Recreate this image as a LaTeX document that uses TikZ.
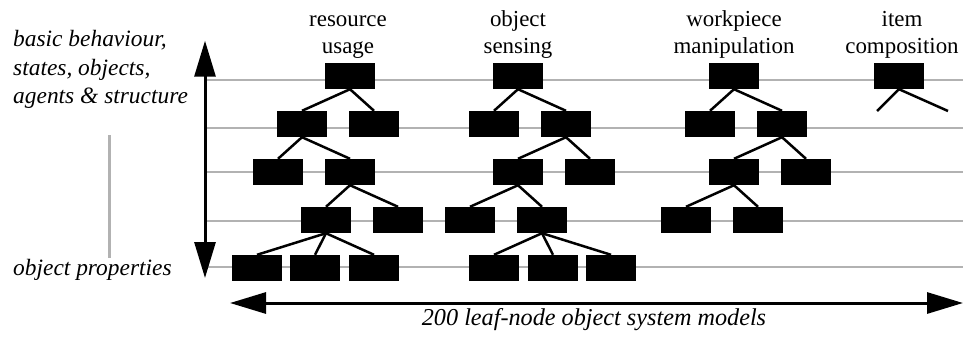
\documentclass[tikz,border=0pt]{standalone}
\usepackage{fontspec}
\setmainfont{Liberation Serif}
\usetikzlibrary{arrows.meta}
\begin{document}
\begin{tikzpicture}[x=1bp,y=-1bp,
  blk/.style={fill=black,draw=none,minimum width=50bp,minimum height=26bp,inner sep=0pt},
  conn/.style={line width=2.5bp,black},
  level/.style={line width=2.2bp,black!30},
  bigarrow/.style={line width=3bp,{Triangle[length=36bp,width=21bp]}-{Triangle[length=36bp,width=21bp]}},
  head/.style={font=\fontsize{23}{27}\selectfont,align=center,anchor=base,inner sep=0pt},
  side/.style={font=\fontsize{23.5}{28}\selectfont\itshape,align=left,anchor=base west,inner sep=0pt}]
\useasboundingbox (0,0) rectangle (963,342);
% level lines
\foreach \yy in {80,128,172,221,267} \draw[level] (207,\yy) -- (963,\yy);
% gray vertical bar
\draw[line width=3bp,black!30] (109,135) -- (109,258);
% vertical arrow
\coordinate (vt) at (205,40.7);
\coordinate (vb) at (205,278);
\draw[bigarrow] (vt) -- (vb);
% horizontal arrow
\coordinate (hl) at (230,303);
\coordinate (hr) at (963,303);
\draw[bigarrow] (hl) -- (hr);
% labels
\node[side] (lab1) at (13,46.5) {basic behaviour,};
\node[side] (lab2) at (13,75) {states, objects,};
\node[side] (lab3) at (13,103) {agents \& structure};
\node[side] (lab4) at (13,275) {object properties};
\node[font=\fontsize{24.3}{28}\selectfont\itshape,anchor=base,inner sep=0pt] (bot) at (594,325) {200 leaf-node object system models};
\node[head] (h1) at (348,53) {resource\\usage};
\node[head] (h2) at (518,53) {object\\sensing};
\node[head] (h3) at (734,53) {workpiece\\manipulation};
\node[head] (h4) at (902,53) {item\\composition};
% resource usage
\node[blk] (r1) at (350,76) {};
\node[blk] (r21) at (302,124) {};
\node[blk] (r22) at (374,124) {};
\node[blk] (r31) at (278,172) {};
\node[blk] (r32) at (350,172) {};
\node[blk] (r41) at (326,220) {};
\node[blk] (r42) at (398,220) {};
\node[blk] (r51) at (257,268) {};
\node[blk] (r52) at (315,268) {};
\node[blk] (r53) at (374,268) {};
\draw[conn] (r1.south) -- (r21.north);
\draw[conn] (r1.south) -- (r22.north);
\draw[conn] (r21.south) -- (r31.north);
\draw[conn] (r21.south) -- (r32.north);
\draw[conn] (r32.south) -- (r41.north);
\draw[conn] (r32.south) -- (r42.north);
\draw[conn] (r41.south) -- (r51.north);
\draw[conn] (r41.south) -- (r52.north);
\draw[conn] (r41.south) -- (r53.north);
% object sensing
\node[blk] (s1) at (518,76) {};
\node[blk] (s21) at (494,124) {};
\node[blk] (s22) at (566,124) {};
\node[blk] (s31) at (518,172) {};
\node[blk] (s32) at (590,172) {};
\node[blk] (s41) at (470,220) {};
\node[blk] (s42) at (542,220) {};
\node[blk] (s51) at (494,268) {};
\node[blk] (s52) at (553,268) {};
\node[blk] (s53) at (611,268) {};
\draw[conn] (s1.south) -- (s21.north);
\draw[conn] (s1.south) -- (s22.north);
\draw[conn] (s22.south) -- (s31.north);
\draw[conn] (s22.south) -- (s32.north);
\draw[conn] (s31.south) -- (s41.north);
\draw[conn] (s31.south) -- (s42.north);
\draw[conn] (s42.south) -- (s51.north);
\draw[conn] (s42.south) -- (s52.north);
\draw[conn] (s42.south) -- (s53.north);
% workpiece manipulation
\node[blk] (w1) at (734,76) {};
\node[blk] (w21) at (710,124) {};
\node[blk] (w22) at (782,124) {};
\node[blk] (w31) at (734,172) {};
\node[blk] (w32) at (806,172) {};
\node[blk] (w41) at (686,220) {};
\node[blk] (w42) at (758,220) {};
\draw[conn] (w1.south) -- (w21.north);
\draw[conn] (w1.south) -- (w22.north);
\draw[conn] (w22.south) -- (w31.north);
\draw[conn] (w22.south) -- (w32.north);
\draw[conn] (w31.south) -- (w41.north);
\draw[conn] (w31.south) -- (w42.north);
% item composition
\node[blk] (i1) at (899,76) {};
\coordinate (ia) at (877,111);
\coordinate (ib) at (948,111);
\draw[conn] (i1.south) -- (ia);
\draw[conn] (i1.south) -- (ib);
\end{tikzpicture}
\end{document}
